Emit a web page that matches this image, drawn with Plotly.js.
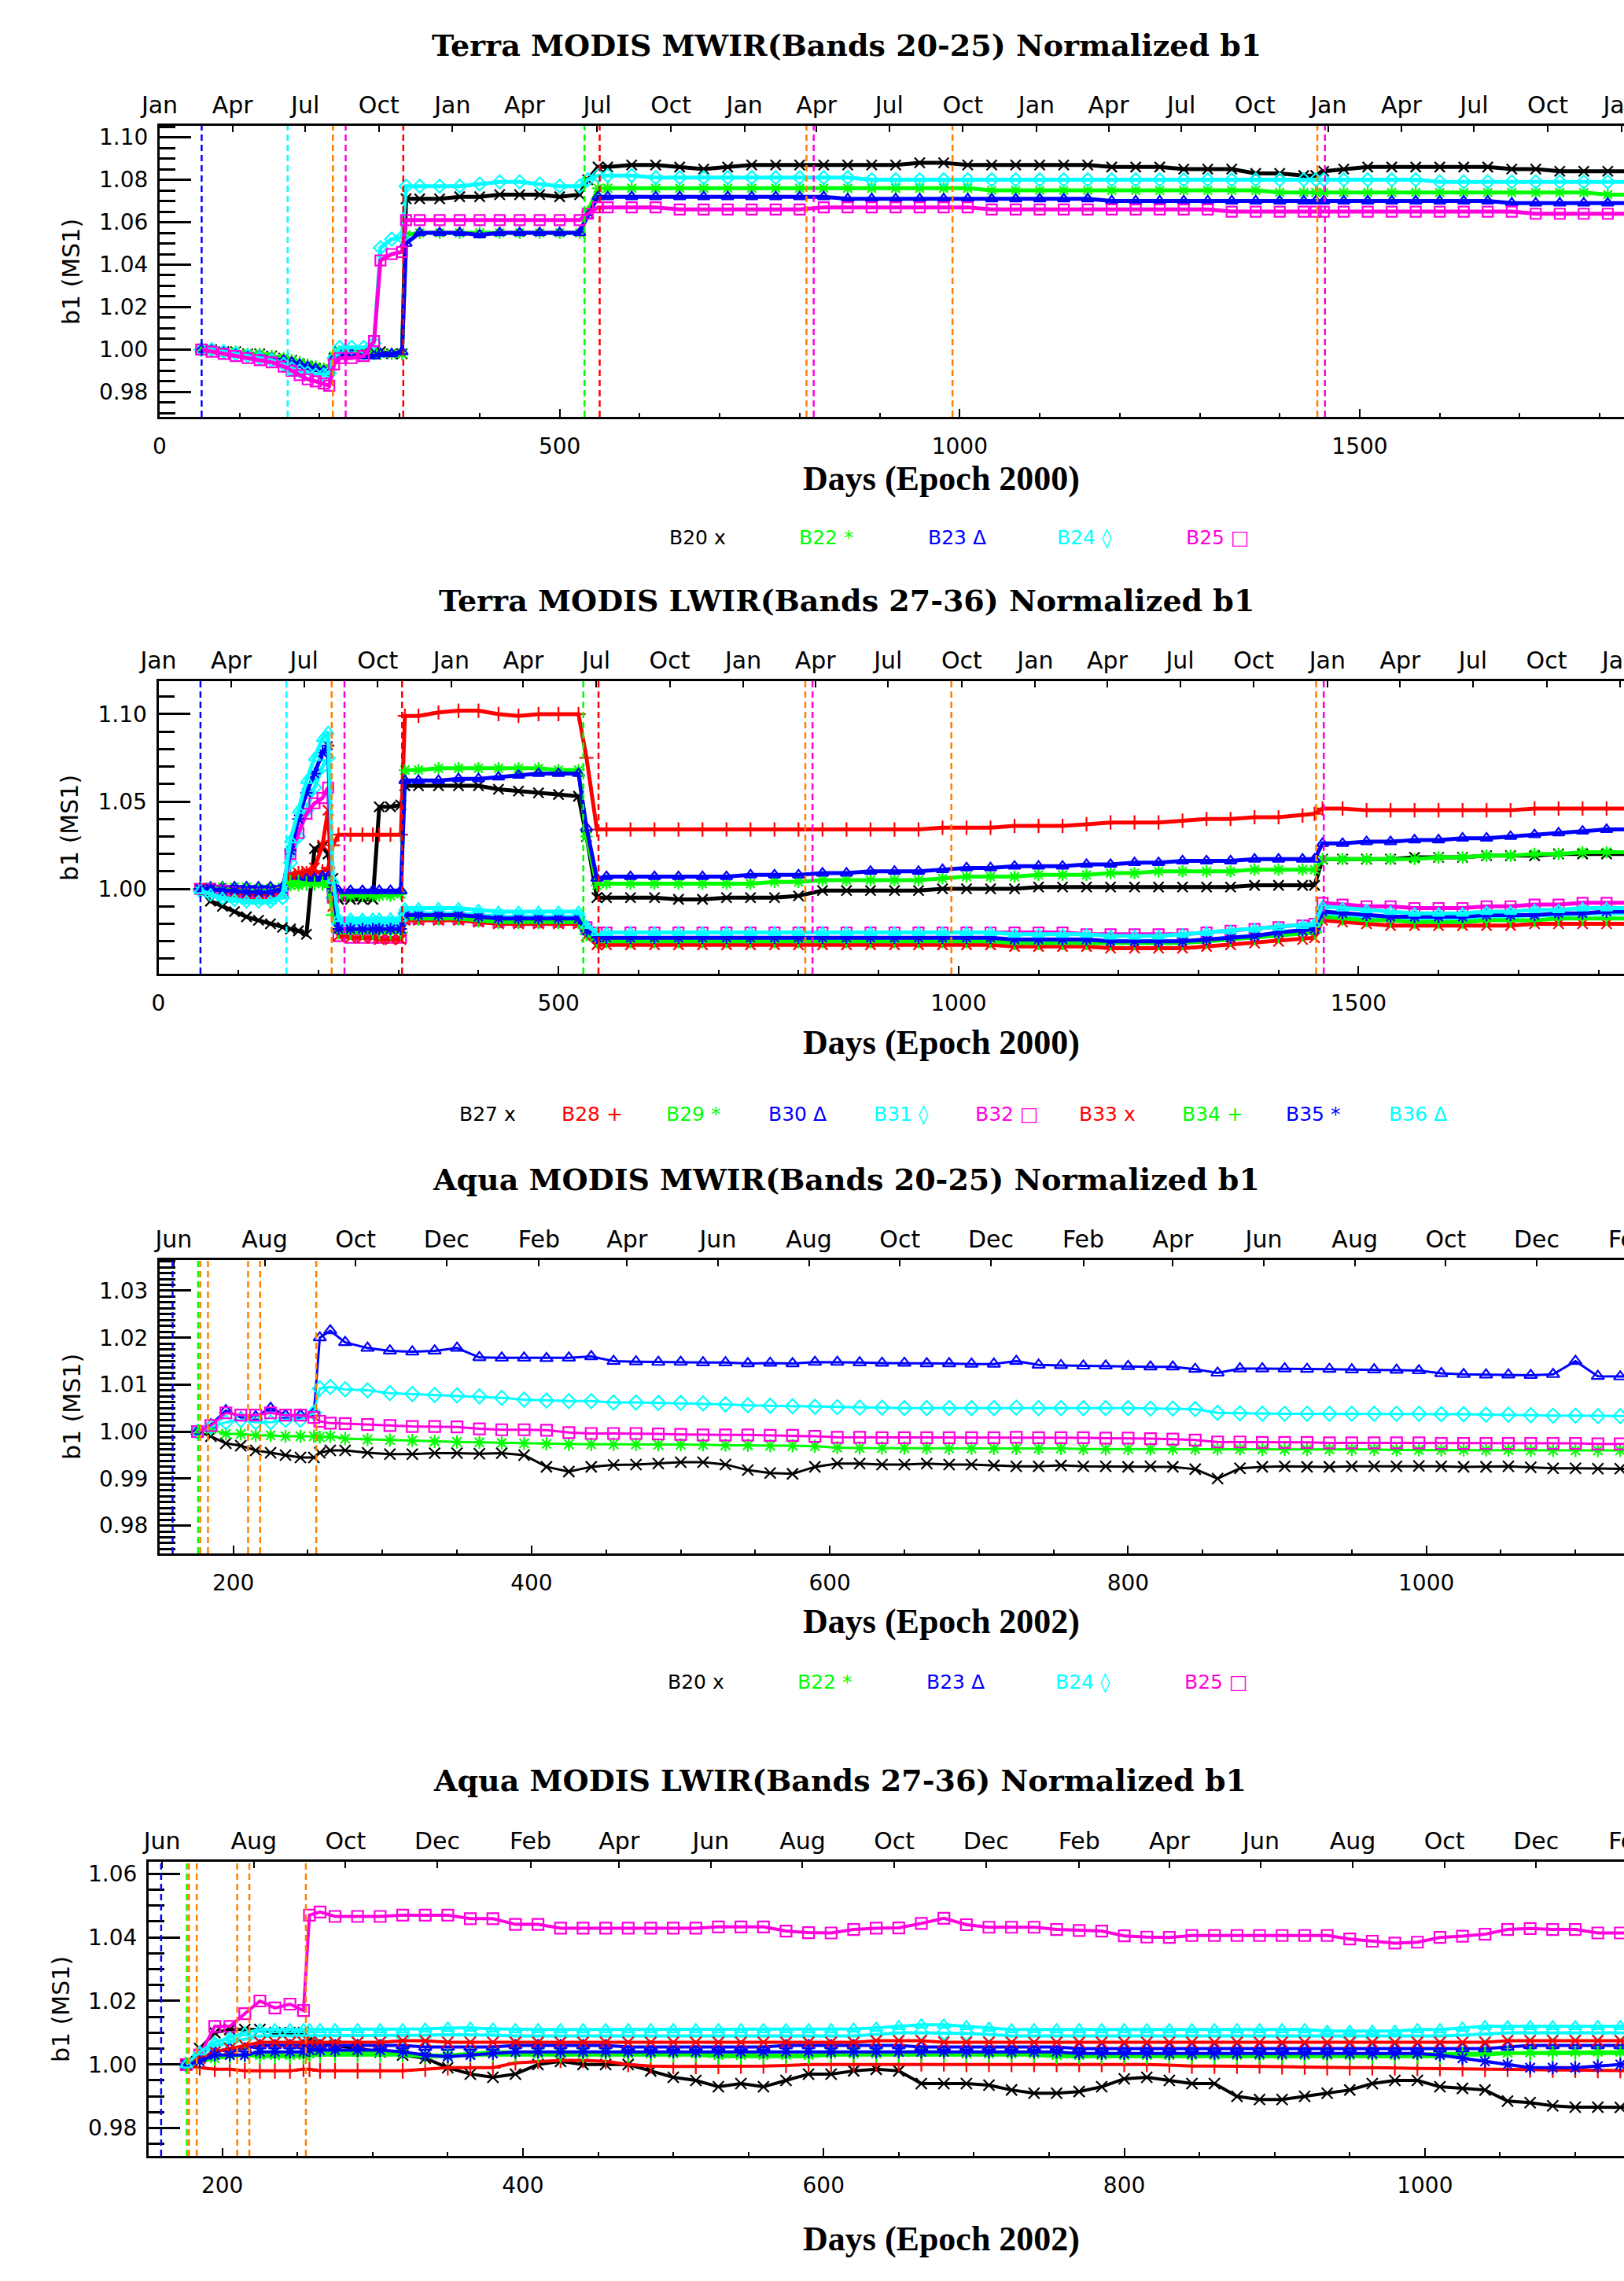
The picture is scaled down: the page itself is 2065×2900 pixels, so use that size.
<!DOCTYPE html>
<html><head><meta charset="utf-8">
<script src="https://cdn.plot.ly/plotly-3.0.1.min.js"></script>
<style>html,body{margin:0;padding:0;background:#fff;overflow:hidden;width:2065px;height:2900px}#wrap{width:2065px;height:2900px;overflow:hidden;position:relative}#chart{width:2400px;height:2900px}</style>
</head><body><div id="wrap"><div id="chart"></div></div>
<script>
// ---------------- Terra day grid (days since 1 Jan 2000) ----------------
const T_DAYS = [52,65,80,95,110,125,140,155,165,175,185,195,205,212,218,225,240,255,268,276,290,303,308,325,350,375,400,425,450,475,500,525,535,548,
 560,590,620,650,680,710,740,770,800,830,860,890,920,950,980,1010,1040,1070,1100,1130,1160,1190,1220,1250,1280,1310,1340,1370,1400,1430,
 1445,1455,
 1480,1510,1540,1570,1600,1630,1660,1690,1720,1750,1780,1810,1840];

// Terra MWIR
const T1_B20 = [1.000,1.000,0.999,0.999,0.998,0.998,0.997,0.996,0.995,0.993,0.992,0.991,0.990,0.990,0.996,0.999,0.999,0.999,0.999,0.999,0.998,0.998,1.071,1.071,1.071,1.072,1.072,1.073,1.073,1.073,1.072,1.073,1.080,1.086,
 1.086,1.087,1.087,1.086,1.085,1.086,1.087,1.087,1.087,1.087,1.087,1.087,1.087,1.088,1.088,1.087,1.087,1.087,1.087,1.087,1.087,1.086,1.086,1.086,1.085,1.085,1.085,1.083,1.083,1.082,
 1.082,1.084,
 1.085,1.086,1.086,1.086,1.086,1.086,1.086,1.085,1.085,1.084,1.084,1.084,1.084];
const T1_B22 = [1.000,1.000,0.999,0.999,0.998,0.998,0.997,0.996,0.995,0.994,0.993,0.992,0.991,0.991,0.997,0.999,0.999,0.998,0.998,0.998,0.998,0.998,1.054,1.055,1.055,1.055,1.055,1.055,1.055,1.055,1.055,1.055,1.065,1.076,
 1.076,1.076,1.076,1.076,1.076,1.076,1.076,1.076,1.076,1.076,1.076,1.076,1.076,1.076,1.076,1.076,1.075,1.075,1.075,1.075,1.075,1.075,1.075,1.075,1.075,1.075,1.075,1.075,1.074,1.074,
 1.074,1.074,
 1.074,1.074,1.074,1.074,1.074,1.074,1.074,1.074,1.074,1.074,1.074,1.073,1.073];
const T1_B23 = [1.000,1.000,0.999,0.998,0.997,0.997,0.996,0.995,0.994,0.993,0.992,0.991,0.990,0.990,0.996,0.998,0.998,0.997,0.997,0.998,0.998,0.999,1.050,1.055,1.055,1.055,1.054,1.055,1.055,1.055,1.055,1.055,1.063,1.072,
 1.072,1.072,1.072,1.072,1.072,1.072,1.072,1.072,1.072,1.072,1.071,1.071,1.071,1.071,1.071,1.071,1.071,1.071,1.071,1.071,1.071,1.070,1.070,1.070,1.070,1.070,1.070,1.070,1.070,1.070,
 1.070,1.070,
 1.070,1.070,1.070,1.070,1.070,1.070,1.070,1.069,1.069,1.069,1.069,1.069,1.069];
const T1_B24 = [1.000,1.000,0.999,0.998,0.997,0.996,0.995,0.993,0.991,0.990,0.989,0.988,0.988,0.989,0.996,1.001,1.001,1.001,1.003,1.048,1.052,1.053,1.077,1.077,1.077,1.077,1.078,1.079,1.079,1.078,1.077,1.077,1.080,1.082,
 1.082,1.082,1.081,1.081,1.081,1.081,1.081,1.081,1.081,1.081,1.081,1.080,1.080,1.080,1.080,1.080,1.080,1.080,1.080,1.080,1.080,1.080,1.080,1.080,1.080,1.080,1.080,1.080,1.080,1.080,
 1.080,1.080,
 1.080,1.080,1.080,1.080,1.079,1.079,1.079,1.079,1.079,1.079,1.079,1.079,1.079];
const T1_B25 = [1.000,0.999,0.998,0.997,0.996,0.995,0.994,0.992,0.990,0.988,0.986,0.985,0.984,0.983,0.993,0.996,0.996,0.997,1.004,1.042,1.045,1.046,1.061,1.061,1.061,1.061,1.061,1.061,1.061,1.061,1.061,1.061,1.064,1.067,
 1.067,1.067,1.067,1.066,1.066,1.066,1.066,1.066,1.066,1.067,1.067,1.067,1.067,1.067,1.067,1.067,1.066,1.066,1.066,1.066,1.066,1.066,1.066,1.066,1.066,1.066,1.065,1.065,1.065,1.065,
 1.065,1.065,
 1.065,1.065,1.065,1.065,1.065,1.065,1.065,1.065,1.064,1.064,1.064,1.064,1.064];

// Terra LWIR
const T2_B27 = [1.000,0.993,0.990,0.987,0.984,0.982,0.980,0.978,0.977,0.976,0.974,1.023,1.024,1.020,1.006,0.994,0.994,0.994,0.994,1.047,1.047,1.048,1.059,1.059,1.059,1.059,1.059,1.057,1.056,1.055,1.054,1.053,1.030,0.995,
 0.995,0.995,0.995,0.994,0.994,0.995,0.995,0.995,0.996,0.999,0.999,0.999,0.999,0.999,1.000,1.000,1.000,1.000,1.001,1.001,1.001,1.001,1.001,1.001,1.001,1.001,1.001,1.002,1.002,1.002,
 1.002,1.017,
 1.017,1.017,1.017,1.018,1.018,1.018,1.019,1.019,1.019,1.020,1.020,1.020,1.020];
const T2_B28 = [1.000,1.000,1.000,1.000,1.000,1.000,1.000,1.000,1.008,1.009,1.009,1.009,1.010,1.012,1.025,1.031,1.031,1.031,1.031,1.031,1.031,1.031,1.099,1.099,1.101,1.102,1.102,1.100,1.099,1.100,1.100,1.100,1.075,1.034,
 1.034,1.034,1.034,1.034,1.034,1.034,1.034,1.034,1.034,1.034,1.034,1.034,1.034,1.034,1.035,1.035,1.035,1.036,1.036,1.036,1.037,1.038,1.038,1.038,1.039,1.040,1.040,1.041,1.041,1.042,
 1.043,1.046,
 1.046,1.045,1.045,1.045,1.045,1.045,1.045,1.045,1.046,1.046,1.046,1.046,1.046];
const T2_B29 = [1.000,1.001,1.001,1.001,1.001,1.000,1.000,1.001,1.002,1.002,1.003,1.003,1.003,1.003,0.998,0.996,0.996,0.996,0.996,0.996,0.996,0.997,1.068,1.068,1.069,1.069,1.069,1.069,1.069,1.069,1.068,1.068,1.030,1.002,
 1.003,1.003,1.003,1.003,1.003,1.003,1.003,1.004,1.004,1.005,1.005,1.005,1.005,1.005,1.006,1.007,1.007,1.007,1.008,1.008,1.008,1.009,1.009,1.010,1.010,1.010,1.010,1.011,1.011,1.011,
 1.011,1.017,
 1.017,1.017,1.017,1.017,1.018,1.018,1.019,1.019,1.020,1.020,1.021,1.021,1.021];
const T2_B30 = [1.000,1.001,1.001,1.001,1.001,1.001,1.001,1.001,1.006,1.006,1.006,1.006,1.007,1.007,1.000,0.999,0.999,0.999,0.999,0.999,0.999,0.999,1.062,1.062,1.062,1.063,1.063,1.064,1.065,1.066,1.066,1.066,1.035,1.006,
 1.007,1.007,1.007,1.007,1.007,1.007,1.008,1.008,1.008,1.009,1.009,1.010,1.010,1.010,1.011,1.012,1.012,1.013,1.013,1.013,1.014,1.014,1.015,1.015,1.016,1.016,1.016,1.017,1.017,1.017,
 1.017,1.026,
 1.026,1.027,1.027,1.028,1.028,1.029,1.029,1.030,1.031,1.032,1.033,1.034,1.034];
const T2_B31 = [0.999,0.997,0.995,0.994,0.993,0.993,0.993,0.995,1.015,1.030,1.045,1.058,1.070,1.075,0.995,0.980,0.980,0.980,0.980,0.980,0.980,0.980,0.986,0.986,0.986,0.986,0.985,0.984,0.984,0.984,0.984,0.984,0.976,0.971,
 0.971,0.971,0.971,0.971,0.971,0.971,0.971,0.971,0.971,0.971,0.971,0.971,0.971,0.971,0.971,0.971,0.971,0.971,0.971,0.971,0.970,0.970,0.970,0.970,0.970,0.971,0.972,0.973,0.974,0.975,
 0.976,0.986,
 0.985,0.984,0.983,0.983,0.983,0.983,0.984,0.984,0.985,0.985,0.986,0.986,0.986];
const T2_B32 = [1.000,1.000,0.999,0.998,0.997,0.997,0.997,0.998,1.020,1.032,1.043,1.049,1.052,1.058,0.995,0.973,0.972,0.972,0.972,0.972,0.972,0.972,0.983,0.983,0.983,0.983,0.982,0.981,0.981,0.981,0.981,0.981,0.978,0.975,
 0.975,0.975,0.975,0.975,0.975,0.975,0.975,0.975,0.975,0.975,0.975,0.975,0.975,0.975,0.975,0.975,0.975,0.975,0.975,0.975,0.974,0.974,0.974,0.974,0.974,0.975,0.976,0.977,0.978,0.979,
 0.980,0.992,
 0.991,0.990,0.990,0.989,0.989,0.989,0.990,0.990,0.991,0.991,0.992,0.992,0.992];
const T2_B33 = [1.000,1.000,0.999,0.998,0.997,0.997,0.997,0.998,1.008,1.009,1.010,1.012,1.025,1.045,0.990,0.973,0.972,0.972,0.972,0.971,0.971,0.971,0.982,0.982,0.982,0.982,0.981,0.980,0.980,0.980,0.980,0.980,0.973,0.968,
 0.968,0.968,0.968,0.968,0.968,0.968,0.968,0.968,0.968,0.968,0.968,0.968,0.968,0.968,0.968,0.968,0.968,0.967,0.967,0.967,0.967,0.966,0.966,0.966,0.966,0.967,0.968,0.969,0.970,0.971,
 0.972,0.982,
 0.981,0.980,0.979,0.979,0.979,0.979,0.979,0.979,0.980,0.980,0.980,0.980,0.980];
const T2_B34 = [1.000,1.000,1.000,0.999,0.999,0.999,0.999,1.000,1.004,1.004,1.003,1.003,1.003,1.003,0.985,0.975,0.975,0.975,0.975,0.975,0.975,0.975,0.983,0.983,0.983,0.983,0.982,0.981,0.981,0.981,0.981,0.981,0.974,0.970,
 0.970,0.970,0.970,0.970,0.970,0.970,0.970,0.970,0.970,0.970,0.970,0.970,0.970,0.970,0.970,0.970,0.970,0.969,0.969,0.969,0.969,0.969,0.969,0.969,0.969,0.970,0.971,0.972,0.973,0.974,
 0.975,0.984,
 0.983,0.982,0.982,0.981,0.981,0.981,0.982,0.982,0.982,0.983,0.983,0.983,0.983];
const T2_B35 = [1.000,1.000,0.999,0.999,0.998,0.998,0.998,1.000,1.022,1.040,1.055,1.066,1.078,1.082,1.000,0.977,0.977,0.977,0.977,0.977,0.977,0.977,0.985,0.985,0.985,0.985,0.984,0.983,0.983,0.983,0.983,0.983,0.976,0.972,
 0.972,0.972,0.972,0.972,0.972,0.972,0.972,0.972,0.972,0.972,0.972,0.972,0.972,0.972,0.972,0.972,0.972,0.971,0.971,0.971,0.971,0.970,0.970,0.970,0.970,0.971,0.972,0.973,0.975,0.976,
 0.977,0.987,
 0.986,0.985,0.984,0.984,0.984,0.984,0.985,0.985,0.985,0.986,0.986,0.987,0.987];
const T2_B36 = [0.999,0.997,0.995,0.994,0.993,0.993,0.993,0.996,1.028,1.045,1.062,1.075,1.086,1.090,1.005,0.983,0.983,0.983,0.983,0.983,0.983,0.983,0.989,0.989,0.989,0.989,0.988,0.987,0.987,0.987,0.987,0.987,0.979,0.975,
 0.975,0.975,0.975,0.975,0.975,0.975,0.975,0.975,0.975,0.975,0.975,0.975,0.975,0.975,0.975,0.975,0.975,0.974,0.974,0.974,0.974,0.973,0.973,0.973,0.974,0.975,0.976,0.977,0.978,0.979,
 0.980,0.990,
 0.989,0.988,0.987,0.986,0.986,0.986,0.987,0.987,0.988,0.988,0.989,0.989,0.989];

// ---------------- Aqua day grid (days since 1 Jan 2002) ----------------
const A_DAYS = [176,185,195,205,215,225,235,245,254,258,265,275,290,
 305,320,335,350,365,380,395,410,425,440,455,470,485,500,515,530,545,560,575,590,
 605,620,635,650,665,680,695,710,725,740,755,770,785,800,815,830,845,860,875,890,
 905,920,935,950,965,980,995,1010,1025,1040,1055,1070,1085,1100,1115,1130,1145];

// Aqua MWIR
const A3_B20 = [1.000,0.999,0.9975,0.997,0.996,0.9955,0.995,0.9945,0.9945,0.9955,0.996,0.996,0.9955,
 0.9952,0.9952,0.9954,0.9954,0.9953,0.9954,0.9950,0.9925,0.9915,0.9925,0.9929,0.9930,0.9932,0.9935,0.9935,0.9930,0.9918,0.9912,0.9910,0.9925,
 0.9932,0.9932,0.9930,0.9930,0.9932,0.9930,0.9930,0.9928,0.9926,0.9926,0.9928,0.9926,0.9926,0.9925,0.9926,0.9925,0.9920,0.9900,0.9922,0.9925,
 0.9926,0.9925,0.9925,0.9926,0.9926,0.9926,0.9927,0.9926,0.9925,0.9925,0.9926,0.9924,0.9922,0.9922,0.9921,0.9921,0.9920];
const A3_B22 = [1.000,1.0005,0.9995,0.9995,0.9992,0.9992,0.999,0.999,0.999,0.9988,0.999,0.9985,0.9983,
 0.9982,0.9981,0.9979,0.9978,0.9977,0.9976,0.9975,0.9974,0.9973,0.9973,0.9973,0.9973,0.9972,0.9972,0.9972,0.9971,0.9971,0.9970,0.9970,0.9969,
 0.9966,0.9965,0.9965,0.9965,0.9965,0.9964,0.9964,0.9964,0.9964,0.9964,0.9964,0.9963,0.9963,0.9963,0.9963,0.9963,0.9963,0.9963,0.9963,0.9962,
 0.9962,0.9962,0.9962,0.9962,0.9962,0.9961,0.9961,0.9961,0.9961,0.9961,0.9961,0.9960,0.9960,0.9960,0.9960,0.9960,0.9960];
const A3_B23 = [1.000,1.0015,1.0045,1.003,1.0032,1.005,1.0035,1.0035,1.004,1.020,1.0215,1.019,1.0178,
 1.0172,1.0170,1.0172,1.0178,1.0158,1.0157,1.0157,1.0156,1.0157,1.0160,1.0150,1.0149,1.0148,1.0148,1.0147,1.0147,1.0145,1.0146,1.0145,1.0148,
 1.0148,1.0147,1.0146,1.0146,1.0145,1.0145,1.0144,1.0144,1.0150,1.0142,1.0141,1.0140,1.0140,1.0139,1.0138,1.0138,1.0133,1.0125,1.0134,1.0134,
 1.0134,1.0133,1.0133,1.0132,1.0132,1.0131,1.0130,1.0124,1.0122,1.0121,1.0121,1.0120,1.0122,1.0150,1.0118,1.0117,1.0117];
const A3_B24 = [1.000,1.001,1.002,1.0025,1.002,1.002,1.0025,1.0025,1.004,1.0092,1.0095,1.0090,1.0088,
 1.0082,1.0080,1.0078,1.0077,1.0075,1.0072,1.0068,1.0066,1.0065,1.0065,1.0062,1.0062,1.0061,1.0061,1.0060,1.0058,1.0056,1.0055,1.0054,1.0053,
 1.0052,1.0051,1.0051,1.0050,1.0050,1.0050,1.0050,1.0050,1.0051,1.0050,1.0050,1.0050,1.0050,1.0050,1.0049,1.0049,1.0048,1.0040,1.0039,1.0038,
 1.0038,1.0038,1.0038,1.0038,1.0038,1.0038,1.0038,1.0037,1.0037,1.0036,1.0036,1.0035,1.0034,1.0034,1.0033,1.0033,1.0033];
const A3_B25 = [1.000,1.0013,1.0040,1.0035,1.0035,1.0040,1.0035,1.0035,1.0030,1.0022,1.0018,1.0017,1.0015,
 1.0013,1.0011,1.0011,1.0010,1.0006,1.0004,1.0004,1.0003,0.9998,0.9996,0.9996,0.9996,0.9995,0.9994,0.9993,0.9993,0.9993,0.9992,0.9992,0.9990,
 0.9988,0.9988,0.9987,0.9987,0.9987,0.9987,0.9987,0.9987,0.9988,0.9987,0.9987,0.9987,0.9986,0.9986,0.9985,0.9984,0.9982,0.9978,0.9978,0.9977,
 0.9977,0.9977,0.9976,0.9976,0.9976,0.9976,0.9976,0.9975,0.9975,0.9975,0.9975,0.9975,0.9975,0.9975,0.9974,0.9974,0.9974];

// Aqua LWIR
const A4_B27 = [1.000,1.005,1.010,1.011,1.011,1.011,1.010,1.010,1.010,1.008,1.007,1.006,1.005,
 1.004,1.003,1.002,0.999,0.997,0.996,0.997,1.000,1.001,1.000,1.000,1.000,0.998,0.996,0.995,0.993,0.994,0.993,0.995,0.997,
 0.997,0.998,0.9985,0.998,0.994,0.994,0.994,0.9935,0.992,0.991,0.991,0.9915,0.993,0.9955,0.996,0.995,0.994,0.994,0.990,0.989,
 0.989,0.990,0.991,0.992,0.994,0.995,0.995,0.993,0.9925,0.992,0.9885,0.988,0.987,0.9866,0.9866,0.9865,0.9865];
const A4_B28 = [1.000,0.999,0.9985,0.9985,0.998,0.998,0.998,0.998,0.9985,0.9985,0.998,0.998,0.998,
 0.998,0.998,0.9985,0.999,0.999,0.999,1.0005,1.001,1.0013,1.0013,1.001,1.000,0.9995,0.9994,0.9994,0.9994,0.9995,0.9995,0.9997,1.0000,
 1.0000,1.0000,1.0002,1.0002,1.0002,1.0002,1.0000,1.0000,1.0000,1.0000,1.0000,1.0000,1.0000,1.0000,1.0000,0.9998,0.9995,0.9995,0.9995,0.9995,
 0.9993,0.9992,0.9990,0.9990,0.9990,0.9990,0.9988,0.9987,0.9986,0.9985,0.9985,0.9983,0.9982,0.9982,0.9981,0.9981,0.9981];
const A4_B29 = [1.000,1.001,1.002,1.003,1.003,1.003,1.003,1.003,1.003,1.0035,1.004,1.004,1.004,
 1.004,1.0035,1.003,1.003,1.0035,1.004,1.004,1.0035,1.0035,1.0035,1.0035,1.0035,1.0035,1.0035,1.0035,1.003,1.003,1.003,1.003,1.003,
 1.0035,1.0035,1.0035,1.004,1.004,1.004,1.0035,1.0035,1.0035,1.0035,1.003,1.003,1.003,1.003,1.003,1.003,1.003,1.003,1.003,1.003,
 1.003,1.003,1.003,1.003,1.003,1.003,1.0032,1.0034,1.0035,1.0036,1.0037,1.0038,1.004,1.004,1.004,1.004,1.004];
const A4_B30 = [1.000,1.002,1.004,1.005,1.005,1.006,1.006,1.006,1.006,1.006,1.006,1.006,1.006,
 1.006,1.006,1.0055,1.0055,1.0055,1.0055,1.006,1.006,1.006,1.006,1.006,1.0055,1.0055,1.0055,1.0055,1.0055,1.0055,1.0055,1.006,1.006,
 1.006,1.006,1.006,1.006,1.0055,1.0055,1.0055,1.0055,1.0055,1.0055,1.0055,1.005,1.005,1.005,1.005,1.005,1.005,1.005,1.005,1.005,
 1.005,1.005,1.005,1.005,1.005,1.005,1.005,1.005,1.005,1.005,1.0055,1.006,1.006,1.006,1.006,1.006,1.006];
const A4_B31 = [1.000,1.003,1.006,1.007,1.008,1.009,1.009,1.009,1.009,1.009,1.009,1.009,1.009,
 1.009,1.009,1.0092,1.0094,1.0094,1.0092,1.009,1.009,1.009,1.009,1.009,1.009,1.009,1.009,1.009,1.009,1.009,1.009,1.009,1.009,
 1.009,1.009,1.0095,1.010,1.010,1.010,1.0098,1.0095,1.009,1.009,1.009,1.009,1.009,1.009,1.009,1.009,1.009,1.009,1.009,1.009,
 1.009,1.009,1.009,1.0088,1.0088,1.0088,1.009,1.009,1.0092,1.0095,1.010,1.010,1.010,1.010,1.010,1.010,1.010];
const A4_B32 = [1.000,1.003,1.012,1.012,1.016,1.020,1.0178,1.019,1.017,1.047,1.048,1.0466,1.0466,
 1.0466,1.047,1.047,1.047,1.0459,1.0459,1.0441,1.0441,1.0429,1.0429,1.0429,1.0429,1.0429,1.0429,1.0429,1.0433,1.0433,1.0433,1.0420,1.0415,
 1.0414,1.0425,1.0429,1.0430,1.0444,1.0460,1.0440,1.0432,1.0432,1.0432,1.0425,1.0422,1.0420,1.0405,1.0401,1.0400,1.0406,1.0406,1.0406,1.0406,
 1.0406,1.0406,1.0406,1.0395,1.0388,1.0382,1.0385,1.0400,1.0404,1.0410,1.0425,1.0428,1.0425,1.0425,1.0414,1.0414,1.0414];
const A4_B33 = [1.000,1.002,1.004,1.005,1.006,1.007,1.007,1.007,1.007,1.007,1.007,1.007,1.007,
 1.007,1.0075,1.0075,1.007,1.007,1.007,1.007,1.007,1.007,1.007,1.007,1.007,1.007,1.007,1.007,1.007,1.007,1.007,1.007,1.007,
 1.007,1.007,1.0075,1.0075,1.0075,1.007,1.007,1.007,1.007,1.007,1.007,1.007,1.007,1.007,1.007,1.007,1.007,1.007,1.007,1.007,
 1.007,1.007,1.007,1.007,1.007,1.007,1.007,1.007,1.007,1.007,1.0075,1.0075,1.0075,1.0075,1.0075,1.0075,1.0075];
const A4_B34 = [1.000,1.001,1.002,1.0025,1.003,1.0025,1.0025,1.0025,1.0025,1.003,1.003,1.003,1.003,
 1.003,1.003,1.0025,1.0025,1.003,1.003,1.003,1.003,1.003,1.003,1.003,1.003,1.003,1.003,1.003,1.0025,1.0025,1.0025,1.0025,1.0025,
 1.003,1.003,1.003,1.003,1.003,1.003,1.003,1.003,1.003,1.003,1.0025,1.0025,1.0025,1.0025,1.0025,1.0025,1.0025,1.0025,1.0025,1.0025,
 1.0025,1.0025,1.0025,1.0025,1.0025,1.0025,1.0025,1.0025,1.003,1.003,1.0035,1.0035,1.0035,1.0035,1.0035,1.0035,1.0035];
const A4_B35 = [1.000,1.001,1.003,1.003,1.003,1.004,1.004,1.004,1.004,1.0045,1.0045,1.0045,1.0045,
 1.0045,1.004,1.003,1.0025,1.003,1.0035,1.004,1.004,1.004,1.004,1.004,1.004,1.004,1.004,1.004,1.004,1.004,1.004,1.004,1.004,
 1.004,1.004,1.004,1.004,1.004,1.004,1.004,1.004,1.004,1.004,1.004,1.0035,1.0035,1.0035,1.0035,1.0035,1.0035,1.0035,1.0035,1.0035,
 1.0035,1.0035,1.0035,1.0035,1.0035,1.0035,1.0035,1.003,1.002,1.001,1.000,0.999,0.999,0.999,0.9995,1.000,1.000];
const A4_B36 = [1.000,1.004,1.007,1.0085,1.010,1.011,1.011,1.011,1.011,1.011,1.011,1.011,1.011,
 1.011,1.011,1.0112,1.0115,1.0115,1.0112,1.011,1.011,1.011,1.011,1.011,1.011,1.011,1.011,1.011,1.011,1.011,1.011,1.011,1.011,
 1.011,1.0112,1.0115,1.012,1.0125,1.0125,1.012,1.0115,1.011,1.011,1.011,1.011,1.011,1.011,1.011,1.011,1.011,1.011,1.011,1.011,
 1.011,1.011,1.0105,1.0105,1.0105,1.0105,1.011,1.011,1.0115,1.012,1.012,1.012,1.012,1.012,1.012,1.012,1.012];

// ---------------- Event lines (days) ----------------
const T_EVENT_DAYS = [52.5,160,216.5,232.5,304.5,531,550,808.5,817.5,991,1447,1456.5];
const T_EVENT_COL  = ['b','c','o','m','r','g','r','o','m','o','o','m'];
const A_EVENT_DAYS = [159.3,176.4,177.8,183,209.9,218,255.6];
const A_EVENT_COL  = ['b','g','o','o','o','o','o'];

// ---------------- Tick labels ----------------
const T_DAY_TICKS = [0,500,1000,1500];
const A_DAY_TICKS = [200,400,600,800,1000];
const T_MONTH_DAYS = [0,91,182,274,366,456,547,639,731,821,912,1004,1096,1186,1277,1369,1461,1552,1643,1735,1827];
const T_MONTH_TEXT = ['Jan','Apr','Jul','Oct','Jan','Apr','Jul','Oct','Jan','Apr','Jul','Oct','Jan','Apr','Jul','Oct','Jan','Apr','Jul','Oct','Jan'];
const A_MONTH_DAYS = [160,221,282,343,405,464,525,586,647,708,770,830,891,952,1013,1074,1136];
const A_MONTH_TEXT = ['Jun','Aug','Oct','Dec','Feb','Apr','Jun','Aug','Oct','Dec','Feb','Apr','Jun','Aug','Oct','Dec','Feb'];

// ---------------- Band labels ----------------
const MWIR_BANDS = ['B20','B22','B23','B24','B25'];
const MWIR_SYM   = ['x','*','\u0394','\u25CA','\u25A1'];
const MWIR_COL   = ['k','g','b','c','m'];
const LWIR_BANDS = ['B27','B28','B29','B30','B31','B32','B33','B34','B35','B36'];
const LWIR_SYM   = ['x','+','*','\u0394','\u25CA','\u25A1','x','+','*','\u0394'];
const LWIR_COL   = ['k','r','g','b','c','m','r','g','b','c'];

const COLORS = {k:'#000000', r:'#ff0000', g:'#00ff00', b:'#0000ff', c:'#00ffff', m:'#ff00dd', o:'#ff8000'};
const PSYM = {'x':'x-thin-open', '+':'cross-thin-open', '*':'asterisk-open', '\u0394':'triangle-up-open', '\u25CA':'diamond-open', '\u25A1':'square-open'};

// The figure is wider than the 2065-px window so the plots run off the right edge, as in the original.
const W = 2400, H = 2900;
const px = v => v / W;
const py = v => 1 - v / H;

const traces = [];
function addSeries(days, vals, col, sym, xa, ya, ms, lw) {
  traces.push({type:'scatter', mode:'lines+markers', x:days, y:vals, xaxis:xa, yaxis:ya,
    line:{color:COLORS[col], width:lw},
    marker:{symbol:PSYM[sym], size:ms, color:COLORS[col], line:{color:COLORS[col], width:2.2}},
    showlegend:false, hoverinfo:'skip'});
}
[T1_B20,T1_B22,T1_B23,T1_B24,T1_B25].forEach((v,i)=>addSeries(T_DAYS, v, MWIR_COL[i], MWIR_SYM[i], 'x', 'y', 13, 5));
[T2_B27,T2_B28,T2_B29,T2_B30,T2_B31,T2_B32,T2_B33,T2_B34,T2_B35,T2_B36].forEach((v,i)=>addSeries(T_DAYS, v, LWIR_COL[i], LWIR_SYM[i], 'x3', 'y2', 13, 5));
[A3_B20,A3_B22,A3_B23,A3_B24,A3_B25].forEach((v,i)=>addSeries(A_DAYS, v, MWIR_COL[i], MWIR_SYM[i], 'x5', 'y3', 14, 3));
[A4_B27,A4_B28,A4_B29,A4_B30,A4_B31,A4_B32,A4_B33,A4_B34,A4_B35,A4_B36].forEach((v,i)=>addSeries(A_DAYS, v, LWIR_COL[i], LWIR_SYM[i], 'x7', 'y4', 14, 4));
// empty carrier traces so that the top (month) axes are drawn
[['x2','y'],['x4','y2'],['x6','y3'],['x8','y4']].forEach(([xa,ya])=>traces.push({type:'scatter', mode:'markers', x:[null], y:[null], xaxis:xa, yaxis:ya, showlegend:false, hoverinfo:'skip'}));

const NUMFONT = {family:'DejaVu Sans', size:28, color:'#000'};
const MONFONT = {family:'DejaVu Sans', size:30, color:'#000'};

function xBottom(left, yname, range, ticks, mdtick) {
  return {domain:[px(left),1], anchor:yname, range:range, showline:true, linecolor:'#000', linewidth:3,
    ticks:'inside', ticklen:10, tickwidth:2, tickcolor:'#000', tickmode:'array', tickvals:ticks, ticktext:ticks.map(String),
    minor:{tickmode:'linear', dtick:mdtick, tick0:0, ticks:'inside', ticklen:5, tickwidth:2, tickcolor:'#000'},
    showgrid:false, zeroline:false, tickfont:NUMFONT, ticklabelstandoff:10, fixedrange:true};
}
function xTop(over, yname, range, vals, text) {
  return {overlaying:over, side:'top', anchor:yname, range:range, tickmode:'array', tickvals:vals, ticktext:text,
    showline:true, linecolor:'#000', linewidth:3, ticks:'inside', ticklen:8, tickwidth:2, tickcolor:'#000',
    showgrid:false, zeroline:false, tickfont:MONFONT, ticklabelstandoff:1, fixedrange:true};
}
function yAxis(top, bottom, xname, range, dtick, mdtick) {
  return {domain:[py(bottom), py(top)], anchor:xname, range:range, showline:true, linecolor:'#000', linewidth:3,
    ticks:'inside', ticklen:40, tickwidth:3, tickcolor:'#000', tick0:1, dtick:dtick, tickformat:'.2f',
    minor:{dtick:mdtick, tick0:1, ticks:'inside', ticklen:20, tickwidth:3, tickcolor:'#000'},
    showgrid:false, zeroline:false, tickfont:NUMFONT, ticklabelstandoff:6, fixedrange:true};
}

const layout = {
  width:W, height:H, margin:{l:0,r:0,t:0,b:0}, paper_bgcolor:'#fff', plot_bgcolor:'#fff', showlegend:false,
  xaxis:  xBottom(203, 'y',  [0,2159.6], T_DAY_TICKS, 100),
  xaxis2: xTop('x',  'y',  [0,2159.6], T_MONTH_DAYS, T_MONTH_TEXT),
  yaxis:  yAxis(160, 530, 'x', [0.9683,1.1054], 0.02, 0.005),
  xaxis3: xBottom(201.5, 'y2', [0,2161.1], T_DAY_TICKS, 100),
  xaxis4: xTop('x3', 'y2', [0,2161.1], T_MONTH_DAYS, T_MONTH_TEXT),
  yaxis2: yAxis(866, 1238, 'x3', [0.9514,1.1189], 0.05, 0.01),
  xaxis5: xBottom(203, 'y3', [150.6,1309.2], A_DAY_TICKS, 50),
  xaxis6: xTop('x5', 'y3', [150.6,1309.2], A_MONTH_DAYS, A_MONTH_TEXT),
  yaxis3: yAxis(1602, 1975, 'x5', [0.97406,1.03653], 0.01, 0.00125),
  xaxis7: xBottom(189, 'y4', [151.0,1307.7], A_DAY_TICKS, 50),
  xaxis8: xTop('x7', 'y4', [151.0,1307.7], A_MONTH_DAYS, A_MONTH_TEXT),
  yaxis4: yAxis(2367, 2741, 'x7', [0.97124,1.0638], 0.02, 0.005),
  shapes: [], annotations: []
};

function addEvents(days, cols, xa, ya) {
  days.forEach((d,i)=>layout.shapes.push({type:'line', xref:xa, yref:ya+' domain', x0:d, x1:d, y0:0, y1:1,
    line:{color:COLORS[cols[i]], width:2.5, dash:'8px,5px'}}));
}
addEvents(T_EVENT_DAYS, T_EVENT_COL, 'x', 'y');
addEvents(T_EVENT_DAYS, T_EVENT_COL, 'x3', 'y2');
addEvents(A_EVENT_DAYS, A_EVENT_COL, 'x5', 'y3');
addEvents(A_EVENT_DAYS, A_EVENT_COL, 'x7', 'y4');

function ann(text, x, y, font, opts) {
  layout.annotations.push(Object.assign({xref:'paper', yref:'paper', x:px(x), y:py(y), text:text, showarrow:false,
    xanchor:'center', yanchor:'middle', font:font}, opts||{}));
}
const TITLEFONT = {family:'DejaVu Serif', size:38, color:'#000'};
const XTFONT = {family:'Liberation Serif', size:44, color:'#000'};
const YTFONT = {family:'DejaVu Sans', size:30, color:'#000'};

ann('<b>Terra MODIS MWIR(Bands 20-25) Normalized b1</b>', 1076, 57, TITLEFONT);
ann('<b>Terra MODIS LWIR(Bands 27-36) Normalized b1</b>', 1076, 763, TITLEFONT);
ann('<b>Aqua MODIS MWIR(Bands 20-25) Normalized b1</b>', 1076, 1499, TITLEFONT);
ann('<b>Aqua MODIS LWIR(Bands 27-36) Normalized b1</b>', 1068, 2263, TITLEFONT);

ann('<b>Days (Epoch 2000)</b>', 1197, 609, XTFONT);
ann('<b>Days (Epoch 2000)</b>', 1197, 1325, XTFONT);
ann('<b>Days (Epoch 2002)</b>', 1197, 2061, XTFONT);
ann('<b>Days (Epoch 2002)</b>', 1197, 2846, XTFONT);

ann('b1 (MS1)', 91, 346, YTFONT, {textangle:-90});
ann('b1 (MS1)', 88, 1053, YTFONT, {textangle:-90});
ann('b1 (MS1)', 91, 1789, YTFONT, {textangle:-90});
ann('b1 (MS1)', 77, 2555, YTFONT, {textangle:-90});

const LEGFONT = c => ({family:'DejaVu Sans', size:25, color:COLORS[c]});
const MWIR_LEG_X = [849,1014,1178,1342,1506];
const LWIR_LEG_X = [582,712,845,975,1109,1238,1370,1501,1633,1764];
MWIR_BANDS.forEach((b,i)=>ann(b+' '+MWIR_SYM[i], MWIR_LEG_X[i], 684, LEGFONT(MWIR_COL[i]), {xanchor:'left'}));
LWIR_BANDS.forEach((b,i)=>ann(b+' '+LWIR_SYM[i], LWIR_LEG_X[i], 1416, LEGFONT(LWIR_COL[i]), {xanchor:'left'}));
MWIR_BANDS.forEach((b,i)=>ann(b+' '+MWIR_SYM[i], MWIR_LEG_X[i]-2, 2138, LEGFONT(MWIR_COL[i]), {xanchor:'left'}));

Plotly.newPlot('chart', traces, layout, {staticPlot:true, displayModeBar:false});
</script></body></html>
